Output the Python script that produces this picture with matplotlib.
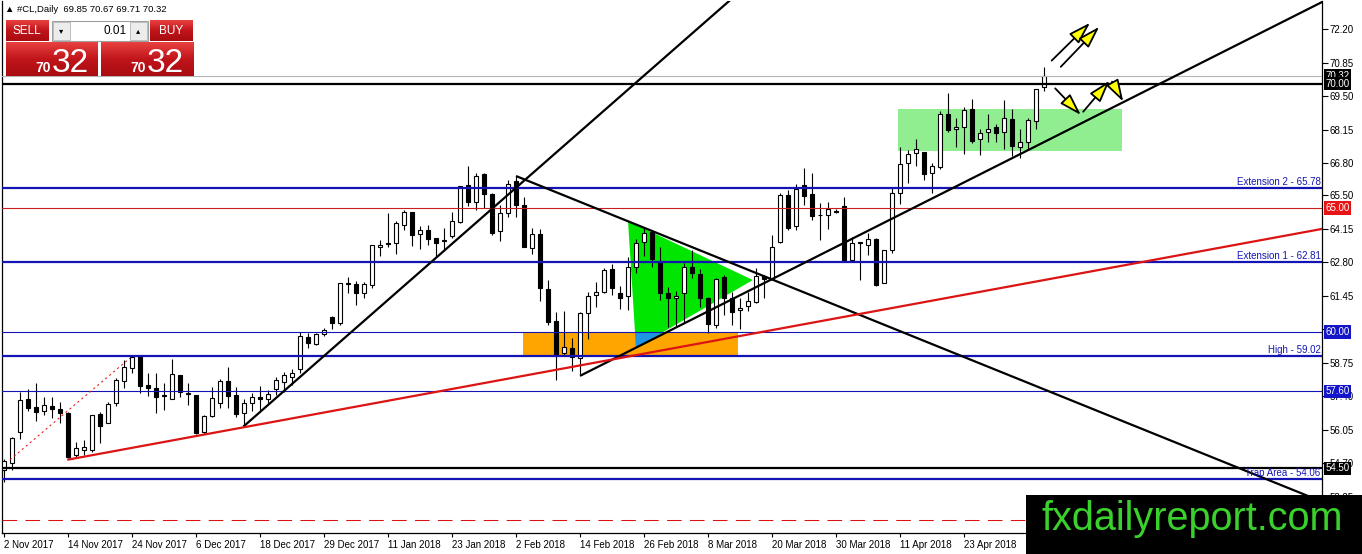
import matplotlib
matplotlib.use('Agg')
import matplotlib.pyplot as plt
from matplotlib.patches import Rectangle, Polygon
from matplotlib.colors import LinearSegmentedColormap
import numpy as np

# ---- daily OHLC, #CL (2 Nov 2017 .. 7 May 2018), one row per bar
opens = [54.45, 54.73, 55.97, 57.30, 56.98, 56.82, 57.02, 56.90, 56.74, 55.05,
         55.25, 55.25, 56.70, 56.34, 57.14, 58.03, 58.55, 59.03, 57.87, 57.74,
         57.46, 57.30, 58.27, 57.50, 57.46, 55.97, 56.62, 57.14, 58.03, 57.46,
         56.74, 57.14, 57.38, 57.30, 57.70, 57.99, 58.19, 58.51, 59.80, 59.52,
         59.92, 60.60, 60.36, 61.93, 61.93, 61.57, 61.89, 63.42, 63.58, 63.58,
         64.31, 64.83, 63.95, 64.11, 63.79, 63.66, 63.87, 64.43, 65.92, 65.24,
         66.36, 65.56, 64.07, 64.79, 66.08, 65.11, 63.38, 63.95, 61.73, 60.44,
         59.15, 59.36, 58.95, 60.77, 61.49, 61.61, 62.54, 61.57, 61.45, 62.62,
         63.62, 64.03, 62.82, 61.57, 61.37, 61.57, 62.62, 62.34, 61.37, 60.28,
         62.21, 61.37, 60.89, 61.05, 61.21, 62.26, 62.13, 63.62, 65.52, 64.27,
         65.92, 65.56, 64.71, 64.71, 64.87, 65.07, 62.90, 63.58, 63.50, 63.75,
         61.97, 63.30, 65.60, 66.80, 67.21, 67.25, 66.40, 66.64, 68.78, 68.17,
         68.25, 68.98, 67.77, 68.05, 68.25, 68.05, 68.58, 67.45, 67.65, 68.50,
         69.85]
highs = [54.90, 55.77, 57.58, 57.70, 57.95, 57.38, 57.38, 57.18, 56.78, 55.57,
         55.65, 56.66, 56.78, 57.18, 58.15, 58.87, 59.03, 59.03, 58.35, 58.35,
         57.95, 58.91, 58.27, 57.95, 57.46, 56.66, 57.79, 58.11, 58.59, 57.79,
         57.30, 57.54, 57.83, 57.66, 58.19, 58.39, 58.51, 60.00, 59.96, 59.96,
         60.16, 60.64, 61.97, 62.22, 62.05, 62.01, 63.50, 63.71, 64.79, 64.47,
         64.91, 64.83, 64.27, 64.31, 63.79, 64.19, 64.83, 65.88, 66.68, 66.40,
         66.40, 65.60, 65.11, 66.12, 66.28, 65.44, 64.19, 64.15, 62.09, 60.81,
         60.85, 59.76, 60.81, 61.61, 62.01, 62.58, 62.74, 61.85, 63.00, 63.75,
         64.19, 64.11, 63.42, 61.81, 61.65, 62.78, 63.30, 62.54, 61.41, 62.17,
         62.30, 61.61, 61.37, 61.61, 62.58, 62.30, 63.91, 65.60, 65.72, 65.96,
         66.60, 66.40, 65.19, 65.24, 64.95, 65.44, 63.83, 63.62, 63.99, 63.79,
         63.30, 65.84, 67.45, 67.33, 67.77, 67.25, 66.80, 68.90, 69.62, 68.62,
         69.06, 69.38, 68.17, 68.78, 68.37, 69.34, 68.98, 68.17, 68.62, 69.79,
         70.67]
lows = [53.96, 54.44, 55.69, 56.82, 56.42, 56.66, 56.54, 56.34, 54.93, 54.97,
        55.05, 55.17, 55.53, 56.34, 57.02, 57.74, 58.35, 57.54, 57.42, 56.74,
        56.86, 57.30, 57.38, 57.06, 55.89, 55.89, 56.58, 56.94, 56.94, 56.58,
        56.18, 56.82, 56.82, 57.14, 57.46, 57.58, 57.87, 58.35, 59.36, 59.48,
        59.84, 60.12, 60.28, 61.57, 61.09, 61.37, 61.77, 63.06, 63.42, 63.14,
        64.11, 63.46, 63.34, 63.50, 63.02, 63.30, 63.79, 64.39, 65.07, 64.91,
        64.99, 63.91, 63.66, 64.63, 64.63, 63.42, 63.14, 61.25, 60.28, 58.07,
        59.07, 58.43, 58.31, 59.72, 61.01, 61.57, 61.49, 60.93, 60.89, 62.38,
        63.06, 62.62, 61.29, 60.20, 60.24, 60.36, 62.17, 61.01, 59.96, 60.16,
        60.68, 60.28, 60.12, 60.85, 61.17, 61.37, 62.09, 63.58, 64.11, 64.11,
        65.11, 64.51, 63.71, 64.15, 64.79, 62.90, 62.86, 62.09, 63.10, 61.85,
        61.97, 63.18, 65.15, 66.00, 66.68, 66.12, 65.60, 66.56, 68.05, 67.45,
        67.17, 67.61, 67.13, 67.65, 67.65, 67.37, 67.09, 67.01, 67.33, 68.17,
        69.71]
closes = [54.80, 55.73, 57.26, 56.94, 56.78, 57.06, 56.90, 56.74, 54.97, 55.33,
          55.37, 56.66, 56.22, 57.10, 58.07, 58.59, 58.99, 57.83, 57.74, 57.38,
          57.40, 58.31, 57.58, 57.52, 55.93, 56.62, 57.34, 58.03, 57.42, 56.70,
          57.14, 57.38, 57.30, 57.50, 58.07, 58.27, 58.35, 59.84, 59.56, 59.92,
          60.08, 60.36, 61.97, 61.99, 61.57, 61.93, 63.50, 63.50, 63.55, 64.39,
          64.83, 63.91, 64.11, 63.75, 63.58, 63.70, 64.47, 65.88, 65.24, 66.28,
          65.56, 63.99, 64.79, 65.96, 65.11, 63.42, 63.95, 61.77, 60.40, 59.07,
          59.40, 58.99, 60.77, 61.45, 61.61, 62.50, 61.77, 61.37, 62.62, 63.58,
          63.99, 62.94, 61.57, 61.37, 61.45, 62.62, 62.38, 61.37, 60.32, 62.13,
          61.37, 60.81, 60.97, 61.25, 62.26, 62.13, 63.42, 65.52, 64.19, 65.76,
          65.48, 64.67, 64.69, 64.95, 64.85, 62.90, 63.58, 63.62, 63.75, 61.89,
          63.30, 65.60, 66.76, 67.17, 67.37, 66.36, 66.68, 68.78, 68.13, 68.25,
          68.94, 67.69, 68.01, 68.17, 68.01, 68.62, 67.49, 67.65, 68.54, 69.79,
          70.32]

date_labels = ['2 Nov 2017', '14 Nov 2017', '24 Nov 2017', '6 Dec 2017', '18 Dec 2017',
               '29 Dec 2017', '11 Jan 2018', '23 Jan 2018', '2 Feb 2018', '14 Feb 2018',
               '26 Feb 2018', '8 Mar 2018', '20 Mar 2018', '30 Mar 2018', '11 Apr 2018',
               '23 Apr 2018']
price_ticks = [72.20, 70.85, 69.50, 68.15, 66.80, 65.50, 64.15, 62.80, 61.45,
               60.10, 58.75, 57.40, 56.05, 54.70, 53.35]
hidden_ticks = [60.10]   # label fully covered by a price tag in the terminal

# horizontal levels drawn on the chart
bid = 70.32
round_level = 70.00
ext2 = 65.78
red_level = 65.00
ext1 = 62.81
level_60 = 60.00
high_level = 59.02
level_576 = 57.60
level_545 = 54.50
trap = 54.06
dash_level = 52.43

# drawn objects: (bar, price) pairs
steep_line = [(29.9, 56.18), (95.0, 74.56)]
down_line = [(64.0, 66.28), (170.0, 52.48)]
up_line = [(72.0, 58.23), (170.0, 74.14)]
red_trend = [(7.9, 54.85), (170.0, 64.46)]
red_dotted = [(0.75, 54.85), (15.75, 58.95)]
orange_zone = (64.9, 91.75, 59.05, 60.00)
green_triangle = [(78.0, 64.47), (79.0, 59.36), (93.6, 62.09)]
box_zone = (111.8, 139.75, 67.30, 68.97)
arrows = [((130.96, 70.93), (135.75, 72.45)),
          ((132.1, 70.68), (136.9, 72.29)),
          ((131.4, 69.81), (134.6, 68.74)),
          ((134.9, 68.87), (138.2, 70.12)),
          ((138.5, 70.08), (139.9, 69.28))]

plt.rcParams['font.family'] = ['Liberation Sans', 'DejaVu Sans']

W, H = 1362, 554
fig = plt.figure(figsize=(W / 100, H / 100), dpi=100)


def fx(px):
    return px / W


def fy(py):
    return 1 - py / H


ax = fig.add_axes([fx(2), fy(533), fx(1322) - fx(2), fy(1) - fy(533)])
ax.set_xlim(-0.25, 164.75)
ax.set_ylim(51.90, 73.33)

blue = '#1414b4'

# background zones
orange = Rectangle((orange_zone[0], orange_zone[2]), orange_zone[1] - orange_zone[0],
                   orange_zone[3] - orange_zone[2], fc='#ffa500', ec='none', zorder=1)
ax.add_patch(orange)
ax.add_patch(Polygon(green_triangle, closed=True, fc='#00e600', ec='none', zorder=1.2))
overlap = Polygon(green_triangle, closed=True, fc='#1e96e6', ec='none', zorder=1.4)
ax.add_patch(overlap)
overlap.set_clip_path(orange)
ax.add_patch(Rectangle((box_zone[0], box_zone[2]), box_zone[1] - box_zone[0],
                       box_zone[3] - box_zone[2], fc='#90ee90', ec='none', zorder=1))

# candles
o = np.array(opens)
h = np.array(highs)
l = np.array(lows)
c = np.array(closes)
x = np.arange(len(o))
up = c >= o
lo = np.minimum(o, c)
bh = np.maximum(np.abs(c - o), 0.035)
ax.vlines(x, l, h, color='black', lw=0.8, zorder=3)
ax.bar(x[up], bh[up], bottom=lo[up], width=0.6, color='white', edgecolor='black',
       lw=0.8, zorder=4)
ax.bar(x[~up], bh[~up], bottom=lo[~up], width=0.6, color='black', edgecolor='black',
       lw=0.8, zorder=4)

# horizontal lines
ax.axhline(bid, color='#b4b4b4', lw=0.8, zorder=5)
ax.axhline(round_level, color='black', lw=1.6, zorder=5)
ax.axhline(ext2, color=blue, lw=1.6, zorder=5)
ax.axhline(red_level, color='#c81e1e', lw=0.8, zorder=5)
ax.axhline(ext1, color=blue, lw=1.6, zorder=5)
ax.axhline(level_60, color=blue, lw=0.8, zorder=5)
ax.axhline(high_level, color=blue, lw=1.6, zorder=5)
ax.axhline(level_576, color=blue, lw=0.8, zorder=5)
ax.axhline(level_545, color='black', lw=1.6, zorder=5)
ax.axhline(trap, color=blue, lw=1.6, zorder=5)
ax.axhline(dash_level, color='#dd1111', lw=0.75, ls=(0, (14, 8)), zorder=5)

# trend lines
for seg, col, lw, ls in [(steep_line, 'black', 1.6, '-'), (down_line, 'black', 1.6, '-'),
                         (up_line, 'black', 1.6, '-'), (red_trend, '#dc1414', 1.6, '-'),
                         (red_dotted, '#dc1414', 0.75, (0, (2, 3)))]:
    ax.plot([seg[0][0], seg[1][0]], [seg[0][1], seg[1][1]], color=col, lw=lw, ls=ls,
            zorder=6, solid_capstyle='butt')

# level labels
yx = ax.get_yaxis_transform()
for lvl, txt in [(ext2, 'Extension 2 - 65.78'), (ext1, 'Extension 1 - 62.81'),
                 (high_level, 'High - 59.02'), (trap, 'Trap Area - 54.06')]:
    ax.text(0.9988, lvl + 0.04, txt, transform=yx, ha='right', va='bottom',
            fontsize=7, color=blue, zorder=7)

# arrows
for (x0, y0), (x1, y1) in arrows:
    ax.annotate('', xy=(x1, y1), xytext=(x0, y0), zorder=8,
                arrowprops=dict(arrowstyle='-|>,head_length=0.9,head_width=0.28',
                                fc='#ffff00', ec='black', lw=1.3, mutation_scale=15,
                                shrinkA=0, shrinkB=0))

# axes styling
ax.spines['top'].set_visible(False)
for s in ['left', 'right', 'bottom']:
    ax.spines[s].set_linewidth(0.9)
ax.yaxis.tick_right()
ax.set_yticks(price_ticks)
ax.set_yticklabels(['' if v in hidden_ticks else '%.2f' % v for v in price_ticks])
ax.tick_params(axis='y', direction='out', length=4, width=0.8, pad=1.5, labelsize=7)
ax.set_xticks(np.arange(len(date_labels)) * 8)
ax.set_xticklabels(date_labels, ha='left')
ax.tick_params(axis='x', direction='out', length=3, width=0.8, pad=2, labelsize=7)

# price tags on the right scale
for lvl, txt, col in [(bid, '70.32', 'black'), (round_level, '70.00', 'black'),
                      (red_level, '65.00', '#e61414'), (level_60, '60.00', '#1414c8'),
                      (level_576, '57.60', '#1414c8'), (level_545, '54.50', 'black')]:
    ax.text(1.0025, lvl, txt, transform=yx, ha='left', va='center', fontsize=7,
            color='white', zorder=9, clip_on=False,
            bbox=dict(boxstyle='square,pad=0.18', fc=col, ec='none'))

# header
fig.text(fx(5), fy(10), '\u25b2 #CL,Daily  69.85 70.67 69.71 70.32', fontsize=6.8,
         va='center', ha='left', color='black')

# one-click trading panel
red_cmap = LinearSegmentedColormap.from_list('r', ['#e8403f', '#c0151b', '#a80c10'])


def red_box(x0, y0, x1, y1):
    a = fig.add_axes([fx(x0), fy(y1), fx(x1) - fx(x0), fy(y0) - fy(y1)])
    a.imshow(np.linspace(0, 1, 60).reshape(-1, 1), cmap=red_cmap, aspect='auto',
             extent=[0, 1, 0, 1])
    a.set_axis_off()
    return a


red_box(6, 20, 48, 41)
red_box(150, 20, 193, 41)
red_box(6, 42, 98, 76)
red_box(101, 42, 193, 76)
fig.text(fx(27), fy(31), 'SELL', color='white', fontsize=8.5, ha='center', va='center')
fig.text(fx(171), fy(31), 'BUY', color='white', fontsize=8.5, ha='center', va='center')
fig.patches.append(Rectangle((fx(52), fy(41)), fx(96), fy(21) - fy(41), fc='white',
                             ec='#a0a0a0', lw=0.8, transform=fig.transFigure, figure=fig))
for bx in (53, 130):
    fig.patches.append(Rectangle((fx(bx), fy(40)), fx(17), fy(22) - fy(40), fc='#ececec',
                                 ec='#b4b4b4', lw=0.6, transform=fig.transFigure, figure=fig))
fig.text(fx(61.5), fy(31), '\u25be', fontsize=6, ha='center', va='center',
         family=['DejaVu Sans'])
fig.text(fx(138.5), fy(31), '\u25b4', fontsize=6, ha='center', va='center',
         family=['DejaVu Sans'])
fig.text(fx(127), fy(31), '0.01', fontsize=8.5, ha='right', va='center')
for bx in (35, 130):
    fig.text(fx(bx), fy(72), '70', color='white', fontsize=10, fontweight='bold',
             ha='left', va='baseline')
    fig.text(fx(bx + 17), fy(72), '32', color='white', fontsize=24, ha='left',
             va='baseline')

# watermark
fig.patches.append(Rectangle((fx(1026), 0), 1 - fx(1026), fy(495), fc='black', ec='none',
                             transform=fig.transFigure, figure=fig, zorder=10))
fig.text(fx(1042), fy(530), 'fxdailyreport.com', color='#3ad12c', fontsize=28.5,
         ha='left', va='baseline', zorder=11)

fig.savefig('out.png', dpi=100)
